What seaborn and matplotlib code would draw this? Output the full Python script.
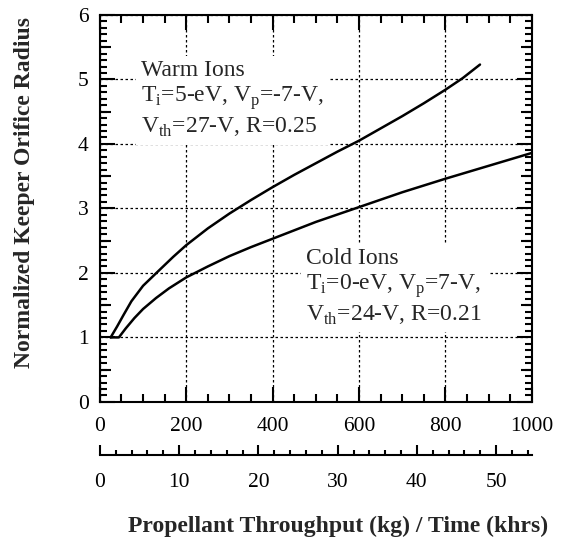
import numpy as np
import pandas as pd
import matplotlib
matplotlib.use('Agg')
import matplotlib.pyplot as plt
from matplotlib.ticker import MultipleLocator, NullFormatter
import seaborn as sns

# curves (kg, normalized radius)
warm_kg = [25, 40, 55, 73, 100, 131, 170, 200, 250, 300, 350, 400, 450, 500, 550, 600, 650, 700, 750, 800, 840, 880]
warm_r = [1.00, 1.17, 1.35, 1.56, 1.80, 2.00, 2.25, 2.43, 2.69, 2.92, 3.13, 3.33, 3.52, 3.70, 3.88, 4.05, 4.24, 4.43, 4.63, 4.84, 5.02, 5.23]
cold_kg = [25, 44, 60, 80, 100, 130, 160, 200, 250, 300, 350, 400, 500, 600, 700, 800, 900, 1000]
cold_r = [1.00, 1.00, 1.14, 1.30, 1.44, 1.61, 1.76, 1.93, 2.10, 2.26, 2.40, 2.53, 2.79, 3.02, 3.25, 3.46, 3.66, 3.86]
ion_names = ["Warm Ions", "Cold Ions"]
kg_per_khr = 18.35

x_ticks_kg = [0, 200, 400, 600, 800, 1000]
x_ticks_khrs = [0, 10, 20, 30, 40, 50]
y_ticks = [0, 1, 2, 3, 4, 5, 6]

warm_label = "Warm Ions\nT$_\\mathrm{i}$=5-eV, V$_\\mathrm{p}$=-7-V,\nV$_\\mathrm{th}$=27-V, R=0.25"
cold_label = "Cold Ions\nT$_\\mathrm{i}$=0-eV, V$_\\mathrm{p}$=7-V,\nV$_\\mathrm{th}$=24-V, R=0.21"

sns.set_theme(style="ticks")
plt.rcParams['font.family'] = ['Liberation Serif', 'DejaVu Serif']
plt.rcParams['mathtext.fontset'] = 'custom'
plt.rcParams['mathtext.rm'] = 'Liberation Serif'
plt.rcParams['axes.linewidth'] = 1.5

df = pd.concat([
    pd.DataFrame({'kg': warm_kg, 'r': warm_r, 'ions': ion_names[0]}),
    pd.DataFrame({'kg': cold_kg, 'r': cold_r, 'ions': ion_names[1]}),
])

fig = plt.figure(figsize=(5.61, 5.38), dpi=100)
ax = fig.add_axes([0.178, 0.253, 0.770, 0.7193])
sns.lineplot(data=df, x='kg', y='r', units='ions', estimator=None, sort=False,
             color='black', lw=1.8, ax=ax)

ax.set_xlim(0, 1000)
ax.set_ylim(0, 6)
ax.set_xticks(x_ticks_kg)
ax.set_yticks(y_ticks)
ax.xaxis.set_minor_locator(MultipleLocator(50))
ax.yaxis.set_minor_locator(MultipleLocator(0.1))
ax.tick_params(which='both', direction='in', top=True, right=True,
               color='black', width=1.5, labelsize=15.5, labelcolor='black')
ax.tick_params(axis='x', which='major', length=11, pad=11)
ax.tick_params(axis='y', which='major', length=11, pad=8)
ax.tick_params(axis='x', which='minor', length=5.5)
ax.tick_params(axis='y', which='minor', length=5)
for s in ax.spines.values():
    s.set_color('black')
ax.grid(True, which='major', color='black', lw=0.9, ls=(0, (2, 2)))
ax.set_axisbelow(True)
ax.set_xlabel('')
ax.set_ylabel('')

# medium ticks at the half units
for side in ['left', 'right']:
    sy = ax.secondary_yaxis(side)
    sy.set_yticks(np.arange(0.5, 6, 1.0))
    sy.yaxis.set_major_formatter(NullFormatter())
    sy.tick_params(direction='in', length=8, width=1.5, color='black')
    sy.spines[side].set_visible(False)

# time axis below
sec = ax.secondary_xaxis(-0.137, functions=(lambda x: x / kg_per_khr, lambda x: x * kg_per_khr))
sec.set_xticks(x_ticks_khrs)
sec.xaxis.set_minor_locator(MultipleLocator(2))
sec.tick_params(which='both', direction='in', color='black', width=1.5,
                labelsize=15.5, labelcolor='black', pad=13)
sec.tick_params(which='major', length=7)
sec.tick_params(which='minor', length=3.8)
sec.spines['bottom'].set_linewidth(1.5)
sec.spines['bottom'].set_color('black')

box = dict(facecolor='white', edgecolor='none', pad=4)
ax.text(96, 5.30, warm_label, fontsize=17, va='top', ha='left', linespacing=1.2, bbox=box)
ax.text(478, 2.39, cold_label, fontsize=17, va='top', ha='left', linespacing=1.2, bbox=box)

fig.text(338 / 561, 1 - 532 / 538, 'Propellant Throughput (kg) / Time (khrs)',
         fontsize=17, fontweight='bold', ha='center', va='baseline')
fig.text(30 / 561, 1 - 192 / 538, 'Normalized Keeper Orifice Radius',
         fontsize=17, fontweight='bold', ha='center', va='baseline',
         rotation=90, rotation_mode='anchor')

fig.savefig('out.png', dpi=100)
